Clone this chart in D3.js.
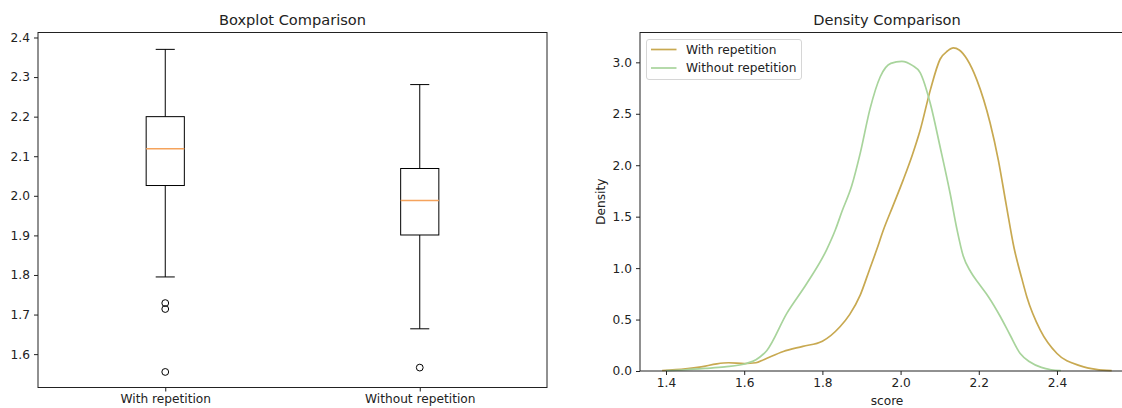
<!DOCTYPE html>
<html>
<head>
<meta charset="utf-8">
<script src="https://cdn.jsdelivr.net/npm/d3@7"></script>
<style>
  html, body { margin: 0; padding: 0; background: #fff; }
  text { font-family: "DejaVu Sans", sans-serif; fill: #222; }
</style>
</head>
<body>
<svg id="chart" width="1122" height="408"></svg>
<script>
// ---- Boxplot data ----
const boxCategories = ["With repetition", "Without repetition"];
const boxWhiskerLow = [1.795, 1.664];
const boxQ1 = [2.026, 1.901];
const boxMedian = [2.119, 1.988];
const boxQ3 = [2.200, 2.069];
const boxWhiskerHigh = [2.370, 2.281];
const boxOutliers = [[1.729, 1.714, 1.555], [1.566]];
const boxYTicks = [1.6, 1.7, 1.8, 1.9, 2.0, 2.1, 2.2, 2.3, 2.4];

// ---- Density data ----
const densitySeries = ["With repetition", "Without repetition"];
const withRepX = [1.39, 1.45, 1.49, 1.53, 1.56, 1.60, 1.63, 1.65, 1.70, 1.75, 1.80, 1.845, 1.87, 1.897, 1.92, 1.939, 1.956, 1.98, 2.007, 2.03, 2.05, 2.076, 2.101, 2.12, 2.135, 2.15, 2.17, 2.195, 2.229, 2.25, 2.27, 2.29, 2.31, 2.323, 2.357, 2.40, 2.46, 2.50, 2.54];
const withRepY = [0.005, 0.02, 0.04, 0.07, 0.08, 0.072, 0.08, 0.11, 0.19, 0.24, 0.29, 0.43, 0.55, 0.74, 0.98, 1.18, 1.37, 1.60, 1.86, 2.10, 2.34, 2.73, 3.03, 3.11, 3.14, 3.12, 3.03, 2.83, 2.41, 2.05, 1.62, 1.20, 0.90, 0.72, 0.40, 0.17, 0.05, 0.015, 0.003];
const withoutRepX = [1.40, 1.45, 1.50, 1.55, 1.607, 1.63, 1.658, 1.709, 1.76, 1.811, 1.833, 1.85, 1.875, 1.897, 1.922, 1.948, 1.975, 2.003, 2.03, 2.05, 2.076, 2.101, 2.127, 2.144, 2.16, 2.18, 2.20, 2.225, 2.255, 2.28, 2.306, 2.33, 2.36, 2.385, 2.41];
const withoutRepY = [0.003, 0.012, 0.025, 0.04, 0.075, 0.11, 0.20, 0.56, 0.85, 1.18, 1.37, 1.55, 1.80, 2.12, 2.55, 2.86, 2.99, 3.01, 2.97, 2.90, 2.60, 2.18, 1.72, 1.38, 1.12, 0.96, 0.85, 0.72, 0.53, 0.35, 0.17, 0.09, 0.035, 0.012, 0.003];
const densityXTicks = [1.4, 1.6, 1.8, 2.0, 2.2, 2.4];
const densityYTicks = [0.0, 0.5, 1.0, 1.5, 2.0, 2.5, 3.0];
const densityColors = ["#c8a951", "#a8d49c"];

const svg = d3.select("#chart");
const fontTick = "12.2px";
const fontTitle = "14.6px";

// ================= Left: Boxplot =================
const L = { left: 38, right: 547, top: 32.5, bottom: 387.5 };
const bx = d3.scaleLinear().domain([0.5, 2.5]).range([L.left, L.right]);
const by = d3.scaleLinear().domain([1.5157, 2.4126]).range([L.bottom, L.top]);
const gL = svg.append("g");

const boxHalf = 0.075, capHalf = 0.0375;
boxCategories.forEach((c, i) => {
  const p = i + 1;
  const g = gL.append("g");
  g.append("line").attr("x1", bx(p)).attr("x2", bx(p)).attr("y1", by(boxQ3[i])).attr("y2", by(boxWhiskerHigh[i])).attr("stroke", "#000");
  g.append("line").attr("x1", bx(p)).attr("x2", bx(p)).attr("y1", by(boxQ1[i])).attr("y2", by(boxWhiskerLow[i])).attr("stroke", "#000");
  [boxWhiskerHigh[i], boxWhiskerLow[i]].forEach(v => {
    g.append("line").attr("x1", bx(p - capHalf)).attr("x2", bx(p + capHalf)).attr("y1", by(v)).attr("y2", by(v)).attr("stroke", "#000");
  });
  g.append("rect").attr("x", bx(p - boxHalf)).attr("width", bx(p + boxHalf) - bx(p - boxHalf))
    .attr("y", by(boxQ3[i])).attr("height", by(boxQ1[i]) - by(boxQ3[i]))
    .attr("fill", "none").attr("stroke", "#000");
  g.append("line").attr("x1", bx(p - boxHalf)).attr("x2", bx(p + boxHalf)).attr("y1", by(boxMedian[i])).attr("y2", by(boxMedian[i]))
    .attr("stroke", "#f5a35c").attr("stroke-width", 1.5);
  boxOutliers[i].forEach(v => {
    g.append("circle").attr("cx", bx(p)).attr("cy", by(v)).attr("r", 3.4).attr("fill", "none").attr("stroke", "#000").attr("stroke-width", 1);
  });
});

const lyAxis = d3.axisLeft(by).tickValues(boxYTicks).tickFormat(d3.format(".1f")).tickSize(4).tickPadding(4);
const lyG = gL.append("g").attr("transform", `translate(${L.left},0)`).call(lyAxis);
const lxAxis = d3.axisBottom(bx).tickValues([1, 2]).tickFormat((d) => boxCategories[d - 1]).tickSize(4).tickPadding(3);
const lxG = gL.append("g").attr("transform", `translate(0,${L.bottom})`).call(lxAxis);
[lyG, lxG].forEach(g => {
  g.select(".domain").remove();
  g.selectAll("text").style("font-size", fontTick).attr("fill", "#222").style("font-family", "DejaVu Sans, sans-serif");
  g.selectAll("line").attr("stroke", "#222");
});
gL.append("rect").attr("x", L.left).attr("y", L.top).attr("width", L.right - L.left).attr("height", L.bottom - L.top)
  .attr("fill", "none").attr("stroke", "#222").attr("stroke-width", 1);
gL.append("text").attr("x", (L.left + L.right) / 2).attr("y", 25).attr("text-anchor", "middle")
  .style("font-size", fontTitle).text("Boxplot Comparison");

// ================= Right: Density =================
const R = { left: 640, right: 1134, top: 32.5, bottom: 371 };
const dx = d3.scaleLinear().domain([1.3335, 2.597]).range([R.left, R.right]);
const dy = d3.scaleLinear().domain([0, 3.29]).range([R.bottom, R.top]);
const gR = svg.append("g");

const line = d3.line().x(d => dx(d[0])).y(d => dy(d[1])).curve(d3.curveMonotoneX);
const seriesData = [d3.zip(withRepX, withRepY), d3.zip(withoutRepX, withoutRepY)];
seriesData.forEach((pts, i) => {
  gR.append("path").datum(pts).attr("d", line).attr("fill", "none")
    .attr("stroke", densityColors[i]).attr("stroke-width", 1.7);
});

const ryAxis = d3.axisLeft(dy).tickValues(densityYTicks).tickFormat(d3.format(".1f")).tickSize(4).tickPadding(4);
const ryG = gR.append("g").attr("transform", `translate(${R.left},0)`).call(ryAxis);
const rxAxis = d3.axisBottom(dx).tickValues(densityXTicks).tickFormat(d3.format(".1f")).tickSize(4).tickPadding(3);
const rxG = gR.append("g").attr("transform", `translate(0,${R.bottom})`).call(rxAxis);
[ryG, rxG].forEach(g => {
  g.select(".domain").remove();
  g.selectAll("text").style("font-size", fontTick).attr("fill", "#222").style("font-family", "DejaVu Sans, sans-serif");
  g.selectAll("line").attr("stroke", "#222");
});
gR.append("rect").attr("x", R.left).attr("y", R.top).attr("width", R.right - R.left).attr("height", R.bottom - R.top)
  .attr("fill", "none").attr("stroke", "#222").attr("stroke-width", 1);
gR.append("text").attr("x", (R.left + R.right) / 2).attr("y", 25).attr("text-anchor", "middle")
  .style("font-size", fontTitle).text("Density Comparison");
gR.append("text").attr("x", (R.left + R.right) / 2).attr("y", 405).attr("text-anchor", "middle")
  .style("font-size", fontTick).text("score");
gR.append("text").attr("transform", `translate(605,${(R.top + R.bottom) / 2}) rotate(-90)`).attr("text-anchor", "middle")
  .style("font-size", fontTick).text("Density");

// legend
const lg = gR.append("g").attr("transform", "translate(646.5,39.5)");
lg.append("rect").attr("width", 155).attr("height", 40).attr("rx", 2.5)
  .attr("fill", "#fff").attr("fill-opacity", 0.8).attr("stroke", "#d6d6d6");
densitySeries.forEach((s, i) => {
  const y = 10 + i * 18.5;
  lg.append("line").attr("x1", 4.5).attr("x2", 30).attr("y1", y).attr("y2", y)
    .attr("stroke", densityColors[i]).attr("stroke-width", 1.7);
  lg.append("text").attr("x", 39.5).attr("y", y + 4.3).style("font-size", fontTick).text(s);
});
</script>
</body>
</html>
